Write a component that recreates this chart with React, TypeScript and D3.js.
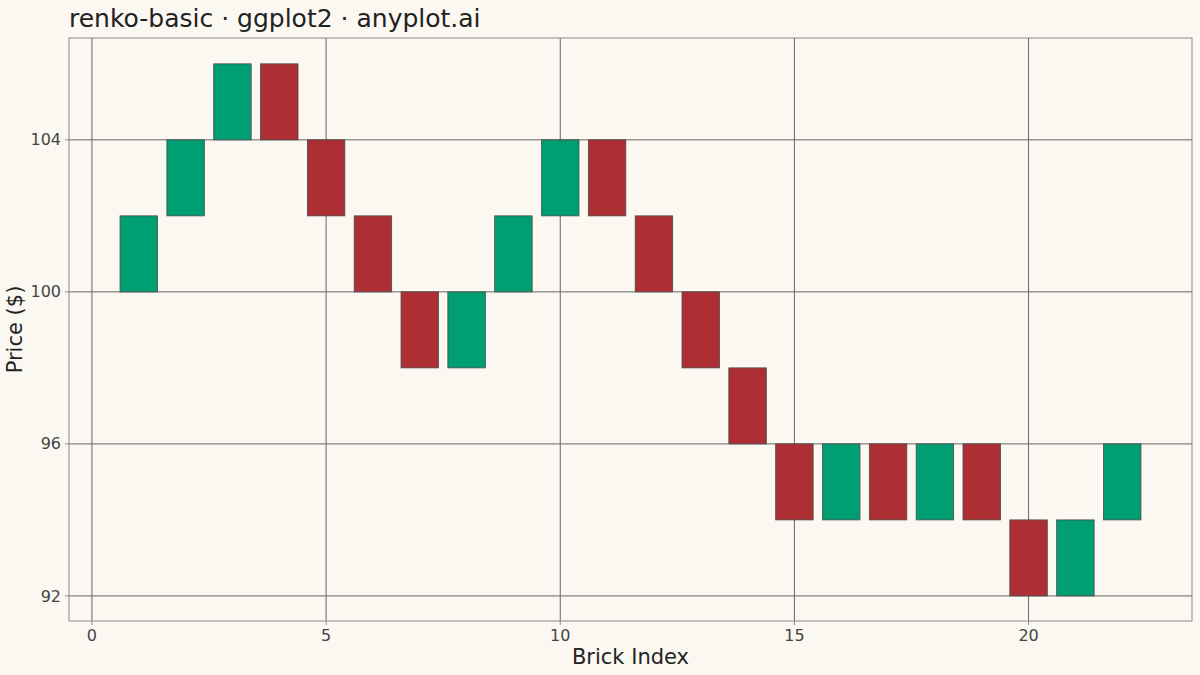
import React from 'react';
import * as d3 from 'd3';

// Renko bricks: index, bottom price, direction
const brickIndex = [1, 2, 3, 4, 5, 6, 7, 8, 9, 10, 11, 12, 13, 14, 15, 16, 17, 18, 19, 20, 21, 22];
const brickLow = [100, 102, 104, 104, 102, 100, 98, 98, 100, 102, 102, 100, 98, 96, 94, 94, 94, 94, 94, 92, 92, 94];
const brickUp = [true, true, true, false, false, false, false, true, true, true, false, false, false, false, false, true, false, true, false, false, true, true];
const brickSize = 2;

const xTicks = [0, 5, 10, 15, 20];
const yTicks = [92, 96, 100, 104];

const W = 1200;
const H = 675;
const margin = { top: 38, right: 8, bottom: 54, left: 69 };

const App: React.FC = () => {
  const pw = W - margin.left - margin.right;
  const ph = H - margin.top - margin.bottom;

  const x = d3.scaleLinear().domain([-0.49, 23.49]).range([0, pw]);
  const y = d3.scaleLinear().domain([91.34, 106.68]).range([ph, 0]);

  const halfW = 0.4;
  const font = "'DejaVu Sans', sans-serif";

  return (
    <svg width={W} height={H} style={{ position: 'fixed', left: 0, top: 0, display: 'block' }}>
      <rect width={W} height={H} fill="#FAF8F1" />
      <text x={margin.left} y={27} fontFamily={font} fontSize={25} fill="#222">
        renko-basic · ggplot2 · anyplot.ai
      </text>
      <g transform={`translate(${margin.left},${margin.top})`}>
        {/* grid */}
        {yTicks.map(t => (
          <line key={'gy' + t} x1={0} x2={pw} y1={y(t)} y2={y(t)} stroke="#666" strokeWidth={1} />
        ))}
        {xTicks.map(t => (
          <line key={'gx' + t} x1={x(t)} x2={x(t)} y1={0} y2={ph} stroke="#666" strokeWidth={1} />
        ))}
        {/* bricks */}
        {brickIndex.map((b, i) => (
          <rect
            key={b}
            x={x(b - halfW)}
            y={y(brickLow[i] + brickSize)}
            width={x(b + halfW) - x(b - halfW)}
            height={y(brickLow[i]) - y(brickLow[i] + brickSize)}
            fill={brickUp[i] ? '#009E73' : '#AD2E33'}
            stroke="#4a4a4a"
            strokeWidth={0.8}
          />
        ))}
        <rect x={0} y={0} width={pw} height={ph} fill="none" stroke="#888" strokeWidth={1} />
        {/* axes */}
        {yTicks.map(t => (
          <g key={'ty' + t}>
            <line x1={-4} x2={0} y1={y(t)} y2={y(t)} stroke="#888" />
            <text x={-8} y={y(t)} dy="0.35em" textAnchor="end" fontFamily={font} fontSize={16} fill="#444">{t}</text>
          </g>
        ))}
        {xTicks.map(t => (
          <g key={'tx' + t}>
            <line x1={x(t)} x2={x(t)} y1={ph} y2={ph + 4} stroke="#888" />
            <text x={x(t)} y={ph + 20} textAnchor="middle" fontFamily={font} fontSize={16} fill="#444">{t}</text>
          </g>
        ))}
        <text x={pw / 2} y={ph + 43} textAnchor="middle" fontFamily={font} fontSize={21} fill="#222">Brick Index</text>
        <text transform={`translate(${-47},${ph / 2}) rotate(-90)`} textAnchor="middle" fontFamily={font} fontSize={21} fill="#222">Price ($)</text>
      </g>
    </svg>
  );
};

export default App;
